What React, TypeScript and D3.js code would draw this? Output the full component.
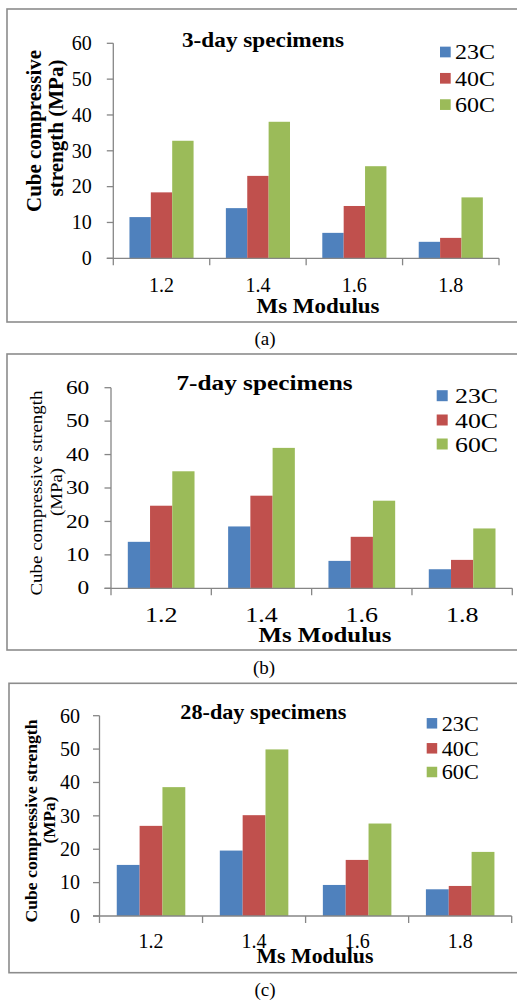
import React, { useEffect, useRef } from 'react';
import * as d3 from 'd3';

// categories and series
const categories = ['1.2', '1.4', '1.6', '1.8'];
const seriesNames = ['23C', '40C', '60C'];
const seriesColors = ['#4F81BD', '#C0504D', '#9BBB59'];
const yTicks = [0, 10, 20, 30, 40, 50, 60];

// 3-day specimens
const day3_23C = [11.5, 14.0, 7.1, 4.6];
const day3_40C = [18.4, 23.0, 14.6, 5.7];
const day3_60C = [32.8, 38.1, 25.7, 17.0];

// 7-day specimens
const day7_23C = [13.9, 18.5, 8.2, 5.7];
const day7_40C = [24.7, 27.7, 15.4, 8.5];
const day7_60C = [35.0, 42.0, 26.2, 17.9];

// 28-day specimens
const day28_23C = [15.3, 19.6, 9.3, 8.0];
const day28_40C = [27.0, 30.2, 16.8, 9.0];
const day28_60C = [38.6, 49.9, 27.7, 19.2];

const FONT = '"Liberation Serif", "Times New Roman", serif';
const AXIS = '#868686';
const BORDER = '#8c8c8c';

const panels = [
  {
    title: '3-day specimens', caption: '(a)',
    series: [day3_23C, day3_40C, day3_60C],
    box: { x: 7, y: 9, b: 322 },
    plot: { l: 113.3, r: 499, t: 43.3, b: 258.3 },
    sx: 1, tickSize: 20, tickGap: 21.6, xLabDy: 33.4, xLabSize: 20,
    head: { x: 263, y: 46.7, size: 21, len: 162 },
    legend: { x: 440, sq: 10.7, rows: [52, 78.3, 104.6], tx: 455, dy: 7.4, size: 22, len: 40 },
    xTitle: { x: 318, y: 313, size: 22, len: 123 },
    yTitle: [
      { text: 'Cube compressive', x: 41, y: 131, size: 20, len: 162, bold: true },
      { text: 'strength (MPa)', x: 63, y: 128, size: 20, len: 137, bold: true },
    ],
    cap: { x: 265, y: 345 },
  },
  {
    title: '7-day specimens', caption: '(b)',
    series: [day7_23C, day7_40C, day7_60C],
    box: { x: 7, y: 354, b: 650 },
    plot: { l: 111, r: 512.3, t: 387.7, b: 588.3 },
    sx: 1.3, tickSize: 18, tickGap: 21.7, xLabDy: 33.4, xLabSize: 20,
    head: { x: 264.5, y: 390, size: 20, len: 176 },
    legend: { x: 436.7, sq: 11, rows: [395.7, 420, 444], tx: 455, dy: 7.6, size: 20, len: 43 },
    xTitle: { x: 325, y: 641.7, size: 20, len: 133 },
    yTitle: [
      { text: 'Cube compressive strength', x: 42, y: 493, size: 16, len: 205, bold: false },
      { text: '(MPa)', x: 62, y: 492, size: 16, len: 48, bold: false },
    ],
    cap: { x: 264, y: 673.5 },
  },
  {
    title: '28-day specimens', caption: '(c)',
    series: [day28_23C, day28_40C, day28_60C],
    box: { x: 9, y: 683.3, b: 972.7 },
    plot: { l: 99.5, r: 511.7, t: 715.7, b: 916 },
    sx: 1, tickSize: 20, tickGap: 19.5, xLabDy: 32.3, xLabSize: 20,
    head: { x: 263.3, y: 719, size: 21, len: 166 },
    legend: { x: 426.7, sq: 10.5, rows: [723.3, 748.3, 772], tx: 441.7, dy: 7.4, size: 21, len: 37 },
    xTitle: { x: 315, y: 963.3, size: 22, len: 117 },
    yTitle: [
      { text: 'Cube compressive strength', x: 37, y: 821, size: 16, len: 203, bold: true },
      { text: '(MPa)', x: 55, y: 820, size: 16, len: 47, bold: true },
    ],
    cap: { x: 265, y: 996 },
  },
];

function drawPanel(svg, p) {
  const g = svg.append('g');

  // frame around the chart area
  g.append('rect')
    .attr('x', p.box.x).attr('y', p.box.y)
    .attr('width', 540).attr('height', p.box.b - p.box.y)
    .attr('fill', '#fff').attr('stroke', BORDER).attr('stroke-width', 1.6);

  const x = d3.scaleBand().domain(categories).range([p.plot.l, p.plot.r])
    .paddingInner(0.335).paddingOuter(0.1675);
  const xs = d3.scaleBand().domain(seriesNames).range([0, x.bandwidth()]);
  const y = d3.scaleLinear().domain([0, 60]).range([p.plot.b, p.plot.t]);

  // bars
  seriesNames.forEach((s, si) => {
    g.append('g').selectAll('rect')
      .data(p.series[si])
      .enter().append('rect')
      .attr('x', (d, i) => x(categories[i]) + xs(s))
      .attr('y', d => y(d))
      .attr('width', xs.bandwidth())
      .attr('height', d => y(0) - y(d))
      .attr('fill', seriesColors[si]);
  });

  // y axis line + ticks
  g.append('line')
    .attr('x1', p.plot.l).attr('x2', p.plot.l)
    .attr('y1', y(60)).attr('y2', y(0))
    .attr('stroke', AXIS).attr('stroke-width', 1.3);
  g.append('g').selectAll('line').data(yTicks).enter().append('line')
    .attr('x1', p.plot.l - 6.5).attr('x2', p.plot.l)
    .attr('y1', d => y(d)).attr('y2', d => y(d))
    .attr('stroke', AXIS).attr('stroke-width', 1.3);
  g.append('g').selectAll('text').data(yTicks).enter().append('text')
    .attr('transform', d => `translate(${p.plot.l - p.tickGap},${y(d)}) scale(${p.sx},1)`)
    .attr('dy', '0.34em')
    .attr('text-anchor', 'end')
    .attr('font-family', FONT).attr('font-size', p.tickSize).attr('fill', '#000')
    .text(d => d);

  // x axis line + category boundary ticks
  g.append('line')
    .attr('x1', p.plot.l - 6.5).attr('x2', p.plot.r)
    .attr('y1', y(0)).attr('y2', y(0))
    .attr('stroke', AXIS).attr('stroke-width', 1.3);
  const bounds = categories.map(c => x(c) - x.step() * 0.1675).concat([p.plot.r]);
  g.append('g').selectAll('line').data(bounds).enter().append('line')
    .attr('x1', d => d).attr('x2', d => d)
    .attr('y1', y(0)).attr('y2', y(0) + 7)
    .attr('stroke', AXIS).attr('stroke-width', 1.3);
  g.append('g').selectAll('text').data(categories).enter().append('text')
    .attr('transform', d => `translate(${x(d) + x.bandwidth() / 2},${y(0) + p.xLabDy}) scale(${p.sx},1)`)
    .attr('text-anchor', 'middle')
    .attr('font-family', FONT).attr('font-size', p.xLabSize)
    .text(d => d);

  // chart title
  g.append('text')
    .attr('x', p.head.x - p.head.len / 2).attr('y', p.head.y)
    .attr('textLength', p.head.len).attr('lengthAdjust', 'spacingAndGlyphs')
    .attr('font-family', FONT).attr('font-weight', 'bold').attr('font-size', p.head.size)
    .text(p.title);

  // legend
  const lg = g.append('g');
  seriesNames.forEach((s, i) => {
    const cy = p.legend.rows[i];
    lg.append('rect')
      .attr('x', p.legend.x).attr('y', cy - p.legend.sq / 2)
      .attr('width', p.legend.sq).attr('height', p.legend.sq)
      .attr('fill', seriesColors[i]);
    lg.append('text')
      .attr('x', p.legend.tx).attr('y', cy + p.legend.dy)
      .attr('textLength', p.legend.len).attr('lengthAdjust', 'spacingAndGlyphs')
      .attr('font-family', FONT).attr('font-size', p.legend.size)
      .text(s);
  });

  // x axis title
  g.append('text')
    .attr('x', p.xTitle.x - p.xTitle.len / 2).attr('y', p.xTitle.y)
    .attr('textLength', p.xTitle.len).attr('lengthAdjust', 'spacingAndGlyphs')
    .attr('font-family', FONT).attr('font-weight', 'bold').attr('font-size', p.xTitle.size)
    .text('Ms Modulus');

  // y axis title (rotated)
  p.yTitle.forEach(t => {
    g.append('text')
      .attr('transform', `translate(${t.x},${t.y + t.len / 2}) rotate(-90)`)
      .attr('textLength', t.len).attr('lengthAdjust', 'spacingAndGlyphs')
      .attr('font-family', FONT).attr('font-weight', t.bold ? 'bold' : 'normal')
      .attr('font-size', t.size)
      .text(t.text);
  });

  // caption below the frame
  svg.append('text')
    .attr('x', p.cap.x).attr('y', p.cap.y)
    .attr('text-anchor', 'middle')
    .attr('font-family', FONT).attr('font-size', 19)
    .text(p.caption);
}

const App = () => {
  const ref = useRef(null);

  useEffect(() => {
    const svg = d3.select(ref.current);
    svg.selectAll('*').remove();
    svg.append('rect').attr('width', 517).attr('height', 1002).attr('fill', '#fff');
    panels.forEach(p => drawPanel(svg, p));
  }, []);

  return (
    <svg
      ref={ref}
      width={517}
      height={1002}
      style={{ position: 'absolute', left: 0, top: 0, display: 'block' }}
    />
  );
};

export default App;
